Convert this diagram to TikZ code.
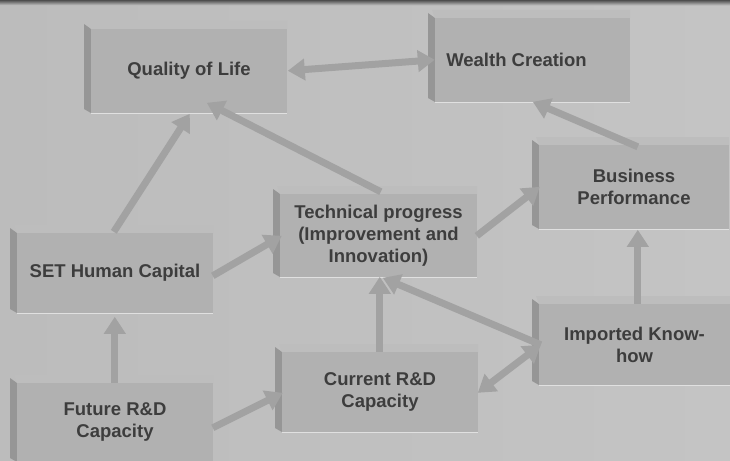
\documentclass[tikz,border=0pt]{standalone}
\usepackage{fontspec}
\setmainfont{Liberation Sans}
\usetikzlibrary{arrows.meta,calc}
\definecolor{bgA}{HTML}{BCBCBC}
\definecolor{bgB}{HTML}{D0D0D0}
\definecolor{bgC}{HTML}{C4C4C4}
\definecolor{facec}{HTML}{B1B1B1}
\definecolor{stripc}{HTML}{BDBDBD}
\definecolor{barc}{HTML}{969696}
\definecolor{edgec}{HTML}{E0E0E0}
\definecolor{txtc}{HTML}{3D3D3D}
\definecolor{arrc}{HTML}{A2A2A2}
\definecolor{topband}{HTML}{4E4E4E}
\tikzset{
  face/.style={fill=facec, inner sep=0pt},
  lbl/.style={text=txtc, font=\fontsize{18.5}{22}\selectfont\bfseries, align=center, inner sep=0pt},
  flow/.style={draw=arrc, line width=7pt, -{Triangle[length=17pt,width=21pt]}},
  flowboth/.style={draw=arrc, line width=7pt, {Triangle[length=17pt,width=21pt]}-{Triangle[length=17pt,width=21pt]}},
}
% name, x1, y1, x2, y2, text, text x-offset
\newcommand\slabbox[7]{%
  \fill[barc] (#2,#3+3) -- (#2+7,#3+8) -- (#2+7,#5) -- (#2,#5-4) -- cycle;
  \fill[stripc] (#2+4,#3) -- (#4,#3) -- (#4,#3+8) -- (#2+7,#3+8) -- cycle;
  \node[face, minimum width={(#4-#2-7)*1pt}, minimum height={(#5-#3-8)*1pt}] (#1) at ({(#2+7+#4)/2},{(#3+8+#5)/2}) {};
  \draw[edgec, line width=1.2pt] (#1.south west) -- (#1.south east);
  \node[lbl] (#1t) at ($(#1.center)+(#7,0)$) {#6};
}
\begin{document}
\begin{tikzpicture}[x=1pt,y=-1pt]
\useasboundingbox (0,0) rectangle (730,460);
\shade[left color=bgA, middle color=bgB, right color=bgC] (0,0) rectangle (730,460);
\shade[top color=topband, bottom color=bgB] (0,0) rectangle (730,6);

\slabbox{ql}{84}{21}{287}{113}{Quality of Life}{0}
\slabbox{wc}{428}{10}{630}{102}{Wealth Creation}{-16}
\slabbox{tp}{273}{186}{477}{277}{Technical progress\\(Improvement and\\Innovation)}{0}
\slabbox{bp}{532}{137}{729}{229}{Business\\Performance}{0}
\slabbox{set}{10}{225}{213}{313}{SET Human Capital}{0}
\slabbox{cur}{275}{344}{478}{432}{Current R\&D\\Capacity}{0}
\slabbox{imp}{532}{296}{730}{385}{Imported Know-\\how}{0}
\slabbox{fut}{10}{375}{213}{462}{Future R\&D\\Capacity}{0}

\draw[flowboth] ($(ql.north west)+(197,42)$) -- ($(wc.north west)+(0,42)$);
\draw[flow] ($(set.north west)+(97,-1)$) -- ($(ql.north west)+(99,85)$);
\draw[flow] ($(tp.north west)+(101,-2)$) -- ($(ql.north west)+(116,74)$);
\draw[flow] ($(bp.north west)+(99,2)$) -- ($(wc.north west)+(98,84)$);
\draw[flow] ($(tp.north west)+(197,42)$) -- ($(bp.north west)+(1,42)$);
\draw[flow] ($(set.north west)+(196,43)$) -- ($(tp.north west)+(2,42)$);
\draw[flow] ($(fut.north west)+(98,0)$) -- ($(set.north west)+(98,84)$);
\draw[flow] ($(fut.north west)+(196,45)$) -- ($(cur.north west)+(1,41)$);
\draw[flow] ($(cur.north west)+(98,0)$) -- ($(tp.north west)+(100,83)$);
\draw[flow] ($(imp.north west)+(2,41)$) -- ($(tp.north west)+(103,84)$);
\draw[flowboth] ($(cur.north west)+(196,41)$) -- ($(imp.north west)+(2,41)$);
\draw[flow] ($(imp.north west)+(99,0)$) -- ($(bp.north west)+(99,85)$);
\end{tikzpicture}
\end{document}
